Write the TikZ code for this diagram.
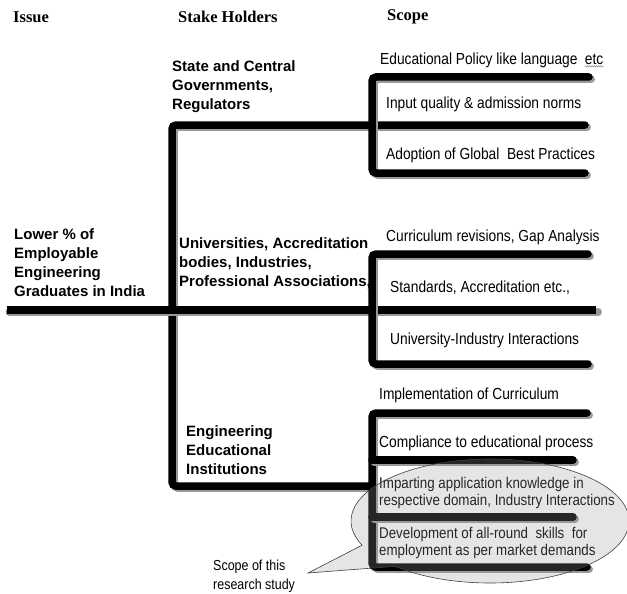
\documentclass[tikz,border=0pt]{standalone}
\usepackage{fontspec}
\setmainfont{Liberation Sans}
\newfontfamily\headfont{Liberation Serif}
\newfontfamily\scopefont[FakeStretch=0.86,WordSpace=1.7]{Liberation Sans}
\newfontfamily\ellfont[FakeStretch=0.86]{Liberation Sans}
\usetikzlibrary{positioning,decorations.pathmorphing}

\tikzset{
  bar/.style={line width=7.5pt,line cap=round,rounded corners=4pt,
    preaction={draw=black!40,line width=7.5pt,line cap=round,rounded corners=4pt,
      transform canvas={shift={(2.2,2.2)}}}},
  mainbar/.style={bar,line cap=butt,
    preaction={draw=black!40,line width=7.5pt,transform canvas={shift={(2.2,2.2)}}}},
  head/.style={anchor=west,inner sep=0pt,font=\headfont\bfseries\fontsize{16.5}{19}\selectfont},
  stake/.style={anchor=west,inner sep=0pt,align=left,font=\bfseries\fontsize{15}{19}\selectfont},
  scopetext/.style={anchor=west,inner sep=0pt,font=\scopefont\fontsize{16}{17}\selectfont},
  elltext/.style={anchor=west,inner sep=0pt,align=left,font=\ellfont\fontsize{15.5}{17}\selectfont},
  note/.style={anchor=west,inner sep=0pt,align=left,font=\ellfont\fontsize{14.5}{19}\selectfont},
  bubble/.style={draw=black!75,line width=0.6pt,fill=black!40,fill opacity=0.25},
  squiggle/.style={draw=black!45,line width=0.5pt,decorate,
    decoration={snake,amplitude=0.7pt,segment length=2.2pt}}
}

\begin{document}
\begin{tikzpicture}[x=1pt,y=-1pt]
    \useasboundingbox (0,0) rectangle (627,594);

    \coordinate (root) at (7,310);
    \coordinate (rootEnd) at (596,310);
    \coordinate (trunkTop) at (172,125);
    \coordinate (trunkBot) at (172,486);
    \coordinate (instEnd) at (372,486);
    \coordinate (govEnd) at (585,125);

    \draw[bar] (govEnd) -- (trunkTop) -- (trunkBot) -- (instEnd);
    \draw[mainbar] (root) -- (rootEnd);

    \coordinate (g1) at (589,77);  \coordinate (g1c) at (372,77);
    \coordinate (g3) at (585,173); \coordinate (g3c) at (372,173);
    \draw[bar] (g1) -- (g1c) -- (g3c) -- (g3);

    \coordinate (u1) at (588,254); \coordinate (u1c) at (372,254);
    \coordinate (u3) at (588,364); \coordinate (u3c) at (372,364);
    \draw[bar] (u1) -- (u1c) -- (u3c) -- (u3);

    \coordinate (e1) at (587,413); \coordinate (e1c) at (372,413);
    \coordinate (e4) at (587,567); \coordinate (e4c) at (372,567);
    \coordinate (e2c) at (372,460); \coordinate (e2) at (573,460);
    \coordinate (e3c) at (372,517); \coordinate (e3) at (573,517);
    \draw[bar] (e1) -- (e1c) -- (e4c) -- (e4);
    \draw[bar] (e2c) -- (e2);
    \draw[bar] (e3c) -- (e3);

    \node[head] (issue) at (13,17) {Issue};
    \node[head] (holders) at (178,17) {Stake Holders};
    \node[head] (scope) at (387,17) {Scope};

    \node[stake] (lower) at (14,263) {Lower \% of\\Employable\\Engineering\\Graduates in India};
    \node[stake] (gov) at (172,86.5) {State and Central\\Governments,\\Regulators};
    \node[stake] (univ) at (179,263) {Universities, Accreditation\\bodies, Industries,\\Professional Associations,};
    \node[stake] (inst) at (186,450) {Engineering\\Educational\\Institutions};

    \node[scopetext] (policy) at (380,60) {Educational Policy like language};
    \node[scopetext,base right=7pt of policy] (etc) {etc};
    \draw[squiggle] ([yshift=-2.2pt]etc.base west) -- ([yshift=-2.2pt]etc.base east);
    \node[scopetext] (input) at (386,104) {Input quality \& admission norms};
    \node[scopetext] (adopt) at (386,155) {Adoption of Global\ \ Best Practices};

    \node[scopetext] (curr) at (386,237) {Curriculum revisions, Gap Analysis};
    \node[scopetext] (stand) at (390,288) {Standards, Accreditation etc.,};
    \node[scopetext] (uii) at (390,340) {University-Industry Interactions};

    \node[scopetext] (impl) at (379,395) {Implementation of Curriculum};
    \node[scopetext] (comp) at (379,443) {Compliance to educational process};
    \node[elltext] (impart) at (379,492.5) {Imparting application knowledge in\\respective domain, Industry Interactions};
    \node[elltext] (devel) at (379,542.5) {Development of all-round\ \ skills\ \ for\\employment as per market demands};

    \coordinate (tip) at (308,573);
    \coordinate (ellc) at (490,521);
    \draw[bubble] (tip) -- ([shift={(133:139 and 62)}]ellc)
      arc[start angle=133,end angle=-203,x radius=139,y radius=62] -- cycle;

    \node[note] (study) at (213,576.5) {Scope of this\\research study};
\end{tikzpicture}
\end{document}
